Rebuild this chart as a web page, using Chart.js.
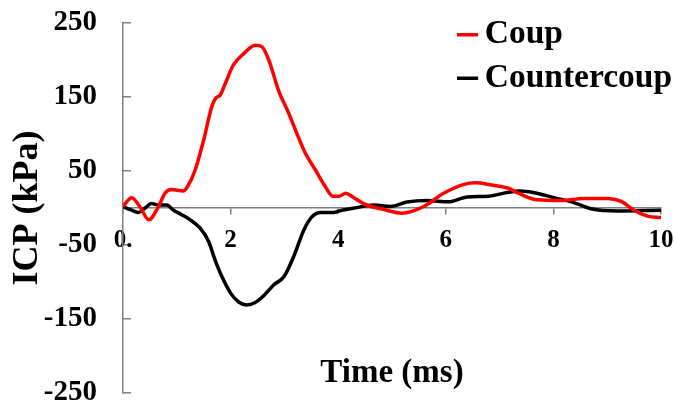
<!DOCTYPE html>
<html>
<head>
<meta charset="utf-8">
<script src="https://cdn.jsdelivr.net/npm/chart.js@4.4.0/dist/chart.umd.min.js"></script>
<style>
html,body{margin:0;padding:0;background:#fff;}
#wrap{width:674px;height:408px;position:relative;}
</style>
</head>
<body>
<div id="wrap"><canvas id="c" width="674" height="408"></canvas></div>
<script>
// ---- data ----
const seriesNames = ['Coup', 'Countercoup'];
const coupTime = [0, 0.16, 0.32, 0.48, 0.66, 0.78, 0.9, 1.12, 1.2, 1.34, 1.5, 1.65, 1.72, 1.81, 1.9, 2.05, 2.25, 2.46, 2.58, 2.71, 2.89, 3.08, 3.23, 3.39, 3.58, 3.76, 3.9, 4.02, 4.14, 4.27, 4.5, 4.85, 5.19, 5.59, 5.96, 6.34, 6.55, 6.85, 7.15, 7.35, 7.7, 8.14, 8.57, 9.0, 9.26, 9.5, 9.75, 10];
const coupICP  = [2, 14, 1, -16, 2, 20, 25, 23, 29, 51, 92, 137, 148, 153, 168, 193, 209, 220, 218, 200, 159, 128, 101, 74, 51, 29, 16, 16, 20, 15, 5, -2, -7, 2, 20, 32, 34, 31, 27, 20, 11, 10, 13, 13, 9, -3, -11, -13];
const counterTime = [0, 0.13, 0.29, 0.41, 0.53, 0.66, 0.81, 0.94, 1.09, 1.25, 1.43, 1.59, 1.71, 1.84, 2.0, 2.15, 2.3, 2.45, 2.61, 2.8, 2.99, 3.17, 3.36, 3.51, 3.67, 3.92, 4.07, 4.3, 4.66, 4.97, 5.28, 5.65, 6.05, 6.4, 6.8, 7.14, 7.38, 7.62, 8.01, 8.39, 8.7, 9.2, 10];
const counterICP  = [2, -2, -6, 0, 6, 4, 4, -3, -9, -16, -27, -45, -70, -93, -115, -127, -131, -128, -119, -104, -93, -66, -30, -12, -6, -6, -3, 0, 4, 2, 8, 10, 8.5, 15, 16, 21, 23, 21, 14, 7, -1, -4, -3];
const xTicks = [0, 2, 4, 6, 8, 10];
const xTickLabels = ['0.', '2', '4', '6', '8', '10'];
const yTicks = [-250, -150, -50, 50, 150, 250];

const FAMILY = "'Liberation Serif', 'Times New Roman', serif";
const AXIS_GREY = '#808080';

const legendPlacer = {
  id: 'legendPlacer',
  afterLayout(chart) {
    const lg = chart.legend;
    if (!lg) return;
    const w = lg.width;
    lg.left = 457;
    lg.top = 8;
    lg.right = lg.left + w;
    lg.bottom = chart.height;
  }
};

new Chart(document.getElementById('c'), {
  type: 'line',
  data: {
    datasets: [
      {
        label: seriesNames[0],
        data: coupTime.map((t, i) => ({x: t, y: coupICP[i]})),
        borderColor: '#ff0000',
        backgroundColor: '#ff0000',
        borderWidth: 3.5,
        pointRadius: 0,
        fill: false,
        cubicInterpolationMode: 'monotone'
      },
      {
        label: seriesNames[1],
        data: counterTime.map((t, i) => ({x: t, y: counterICP[i]})),
        borderColor: '#000000',
        backgroundColor: '#000000',
        borderWidth: 3.5,
        pointRadius: 0,
        fill: false,
        cubicInterpolationMode: 'monotone'
      }
    ]
  },
  options: {
    responsive: false,
    animation: false,
    devicePixelRatio: 1,
    layout: { padding: { top: 23, right: 13, bottom: 15, left: 0 } },
    plugins: {
      tooltip: { enabled: false },
      legend: {
        display: true,
        position: 'chartArea',
        align: 'start',
        labels: {
          usePointStyle: true,
          pointStyle: 'line',
          boxWidth: 1,
          boxHeight: 15,
          padding: 10,
          color: '#000',
          font: { family: FAMILY, size: 33.5, weight: 'bold' }
        }
      }
    },
    scales: {
      x: {
        type: 'linear',
        min: 0,
        max: 10,
        position: { y: 0 },
        afterBuildTicks: s => { s.ticks = xTicks.map(v => ({ value: v })); },
        afterFit: s => { s.height = 0; s.paddingLeft = 0; s.paddingRight = 0; s.paddingTop = 0; s.paddingBottom = 0; },
        ticks: {
          autoSkip: false,
          maxRotation: 0,
          padding: 12,
          color: '#000',
          font: { family: FAMILY, size: 25, weight: 'bold' },
          callback: (v) => xTickLabels[xTicks.indexOf(v)]
        },
        grid: { drawOnChartArea: false, drawTicks: true, tickLength: 6, color: AXIS_GREY, lineWidth: 1.5 },
        border: { display: true, color: AXIS_GREY, width: 1.5 },
        title: {
          display: true,
          text: 'Time (ms)',
          color: '#000',
          font: { family: FAMILY, size: 33, weight: 'bold' },
          padding: { top: 0, bottom: -185 }
        }
      },
      y: {
        type: 'linear',
        min: -250,
        max: 250,
        position: 'left',
        afterBuildTicks: s => { s.ticks = yTicks.map(v => ({ value: v })); },
        afterFit: s => { s.width = 123; s.paddingTop = 0; s.paddingBottom = 0; s.paddingLeft = 0; s.paddingRight = 0; },
        ticks: {
          padding: 34,
          color: '#000',
          font: { family: FAMILY, size: 29, weight: 'bold' }
        },
        grid: { drawOnChartArea: false, drawTicks: true, tickLength: -8, color: AXIS_GREY, lineWidth: 1.5 },
        border: { display: true, color: AXIS_GREY, width: 1.5 },
        title: {
          display: true,
          text: 'ICP (kPa)',
          color: '#000',
          font: { family: FAMILY, size: 36, weight: 'bold' },
          padding: { top: 6, bottom: 0 }
        }
      }
    }
  },
  plugins: [legendPlacer]
});
</script>
</body>
</html>
